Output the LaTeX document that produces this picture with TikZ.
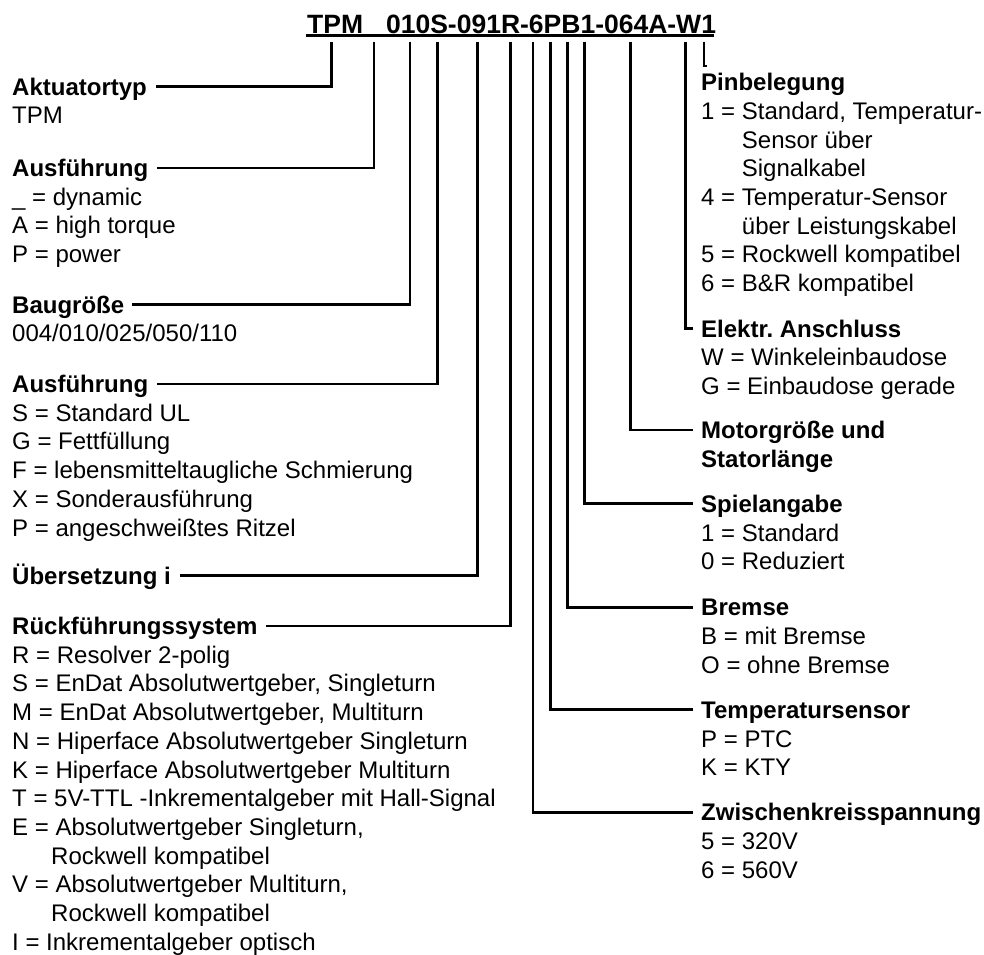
\documentclass[tikz,border=0pt]{standalone}
\usepackage{fontspec}
\setmainfont{Liberation Sans}
\frenchspacing
\begin{document}
\begin{tikzpicture}[x=1pt,y=-1pt,
  hdr/.style={font=\bfseries\fontsize{24}{28.7}\selectfont, anchor=base west, inner sep=0pt, text height=17.2pt, text depth=0pt},
  txt/.style={font=\fontsize{24}{28.7}\selectfont, anchor=base west, inner sep=0pt},
  btxt/.style={font=\bfseries\fontsize{24}{28.7}\selectfont, anchor=base west, inner sep=0pt},
  codetxt/.style={font=\bfseries\fontsize{26.5}{30}\selectfont, anchor=base west, inner sep=0pt},
  conn/.style={line width=2.8pt, line join=miter},
  thinconn/.style={line width=2pt, line join=miter}]
\useasboundingbox (0,0) rectangle (984,954);
\clip (0,0) rectangle (984,954);

% code
\node[codetxt] (code) at (307,33) {TPM\hspace*{23pt}010S-091R-6PB1-064A-W1};
\draw[line width=3pt] ([xshift=-1pt,yshift=-2.3pt]code.base west) -- ([xshift=-2pt,yshift=-2.3pt]code.base east);

% tops of connectors
\coordinate (t1) at (331.7,41.7);
\coordinate (t2) at (374,41.7);
\coordinate (t3) at (410,41.7);
\coordinate (t4) at (437.3,41.7);
\coordinate (t5) at (477.3,41.7);
\coordinate (t6) at (510.5,41.7);
\coordinate (t7) at (533,41.7);
\coordinate (t8) at (550.5,41.7);
\coordinate (t9) at (567.7,41.7);
\coordinate (t10) at (584.5,41.7);
\coordinate (t11) at (630.7,41.7);
\coordinate (t12) at (685.7,41.7);
\coordinate (t13) at (703.8,41.7);
\coordinate (p13) at (707,66.3);

% left column
\node[hdr] (h1) at (12,95) {Aktuatortyp};
\node[txt] (b1) at (12,123.7) {TPM};

\node[hdr] (h2) at (12,176.5) {Ausführung};
\node[txt] (b2a) at (12,205.2) {\_ = dynamic};
\node[txt] (b2b) at (12,233.9) {A = high torque};
\node[txt] (b2c) at (12,262.6) {P = power};

\node[hdr] (h3) at (12,313) {Baugröße};
\node[txt] (b3) at (12,341.7) {004/010/025/050/110};

\node[hdr] (h4) at (12,392.5) {Ausführung};
\node[txt] (b4a) at (12,421.2) {S = Standard UL};
\node[txt] (b4b) at (12,449.9) {G = Fettfüllung};
\node[txt] (b4c) at (12,478.6) {F = lebensmitteltaugliche Schmierung};
\node[txt] (b4d) at (12,507.3) {X = Sonderausführung};
\node[txt] (b4e) at (12,536) {P = angeschweißtes Ritzel};

\node[hdr] (h5) at (12,584) {Übersetzung i};

\node[hdr] (h6) at (12,634.5) {Rückführungssystem};
\node[txt] (b6a) at (12,663.2) {R = Resolver 2-polig};
\node[txt] (b6b) at (12,691.9) {S = EnDat Absolutwertgeber, Singleturn};
\node[txt] (b6c) at (12,720.6) {M = EnDat Absolutwertgeber, Multiturn};
\node[txt] (b6d) at (12,749.3) {N = Hiperface Absolutwertgeber Singleturn};
\node[txt] (b6e) at (12,778) {K = Hiperface Absolutwertgeber Multiturn};
\node[txt] (b6f) at (12,806.7) {T = 5V-TTL -Inkrementalgeber mit Hall-Signal};
\node[txt] (b6g) at (12,835.4) {E = Absolutwertgeber Singleturn,};
\node[txt] (b6h) at (51,864.1) {Rockwell kompatibel};
\node[txt] (b6i) at (12,892.8) {V = Absolutwertgeber Multiturn,};
\node[txt] (b6j) at (51,921.5) {Rockwell kompatibel};
\node[txt] (b6k) at (12,950.2) {I = Inkrementalgeber optisch};

% right column
\node[hdr] (r1) at (701,90.7) {Pinbelegung};
\node[txt] (s1a) at (701,119.4) {1 = Standard, Temperatur-};
\node[txt] (s1b) at (741.7,148.1) {Sensor über};
\node[txt] (s1c) at (741.7,176.8) {Signalkabel};
\node[txt] (s1d) at (701,205.5) {4 = Temperatur-Sensor};
\node[txt] (s1e) at (741.7,234.2) {über Leistungskabel};
\node[txt] (s1f) at (701,262.9) {5 = Rockwell kompatibel};
\node[txt] (s1g) at (701,291.6) {6 = B\&R kompatibel};

\node[hdr] (r2) at (701,337) {Elektr.\ Anschluss};
\node[txt] (s2a) at (701,365.7) {W = Winkeleinbaudose};
\node[txt] (s2b) at (701,394.4) {G = Einbaudose gerade};

\node[hdr] (r3) at (701,438.5) {Motorgröße und};
\node[btxt] (r3b) at (701,467.2) {Statorlänge};

\node[hdr] (r4) at (701,512.3) {Spielangabe};
\node[txt] (s4a) at (701,541) {1 = Standard};
\node[txt] (s4b) at (701,569.7) {0 = Reduziert};

\node[hdr] (r5) at (701,615.7) {Bremse};
\node[txt] (s5a) at (701,644.4) {B = mit Bremse};
\node[txt] (s5b) at (701,673.1) {O = ohne Bremse};

\node[hdr] (r6) at (701,718.3) {Temperatursensor};
\node[txt] (s6a) at (701,747) {P = PTC};
\node[txt] (s6b) at (701,775.7) {K = KTY};

\node[hdr] (r7) at (701,820.7) {Zwischenkreisspannung};
\node[txt] (s7a) at (701,849.4) {5 = 320V};
\node[txt] (s7b) at (701,878.1) {6 = 560V};

% connectors
\draw[conn] (t1) |- ([xshift=9pt]h1.east);
\draw[conn] (t2) |- ([xshift=9pt]h2.east);
\draw[conn] (t3) |- ([xshift=8pt]h3.east);
\draw[conn] (t4) |- ([xshift=9pt]h4.east);
\draw[conn] (t5) |- ([xshift=9pt]h5.east);
\draw[conn] (t6) |- ([xshift=8pt]h6.east);
\draw[conn] (t7) |- ([xshift=-8pt]r7.west);
\draw[conn] (t8) |- ([xshift=-8pt]r6.west);
\draw[conn] (t9) |- ([xshift=-8pt]r5.west);
\draw[conn] (t10) |- ([xshift=-8pt]r4.west);
\draw[conn] (t11) |- ([xshift=-8pt]r3.west);
\draw[conn] (t12) |- ([xshift=-8pt]r2.west);
\draw[thinconn] (t13) |- (p13);
\end{tikzpicture}
\end{document}
